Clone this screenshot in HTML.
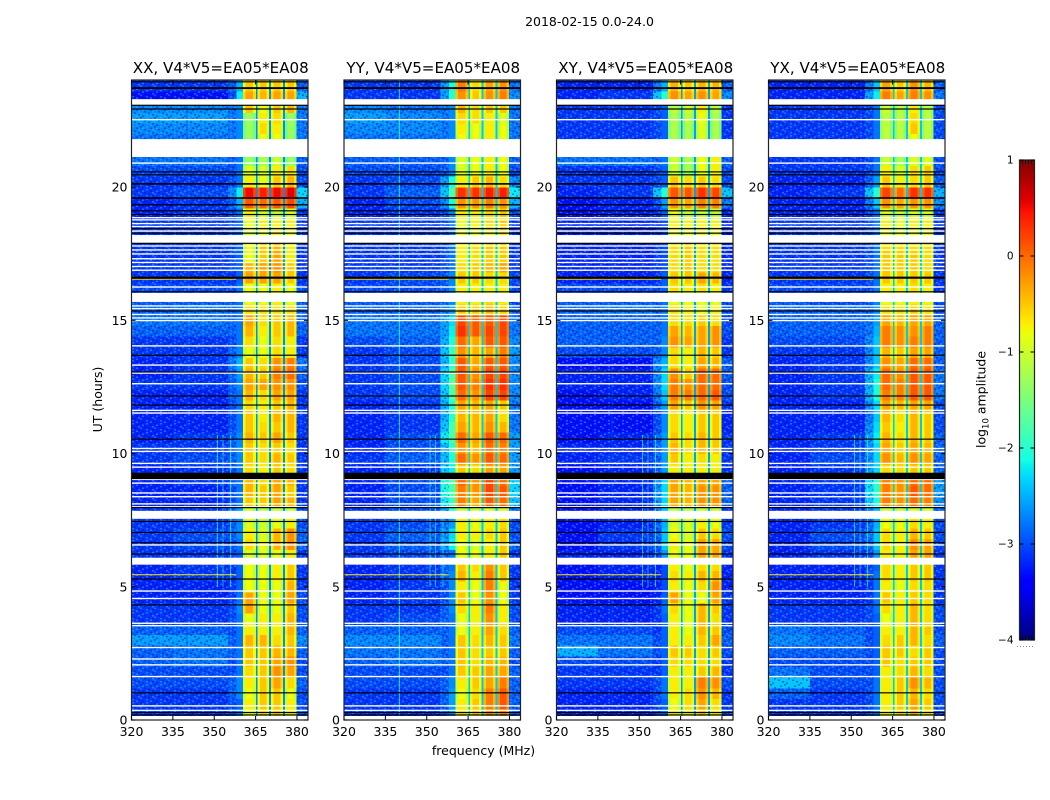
<!DOCTYPE html>
<html>
<head>
<meta charset="utf-8">
<style>
html,body{margin:0;padding:0;background:#fff;}
svg{display:block;}
text{font-family:"DejaVu Sans","Liberation Sans",sans-serif;fill:#000;}
</style>
</head>
<body>
<svg id="figure" xmlns="http://www.w3.org/2000/svg" width="1050" height="800" viewBox="0 0 1050 800">
<defs>
<pattern id="speckle" patternUnits="userSpaceOnUse" width="14" height="9">
<rect x="0" y="0" width="2" height="1.5" fill="#000070" fill-opacity=".4"/>
<rect x="6" y="0" width="2" height="1.5" fill="#50aaff" fill-opacity=".5"/>
<rect x="10" y="1.5" width="2" height="1.5" fill="#000070" fill-opacity=".4"/>
<rect x="2" y="1.5" width="2" height="1.5" fill="#50aaff" fill-opacity=".45"/>
<rect x="4" y="3" width="2" height="1.5" fill="#000070" fill-opacity=".4"/>
<rect x="12" y="3" width="2" height="1.5" fill="#50aaff" fill-opacity=".5"/>
<rect x="8" y="4.5" width="2" height="1.5" fill="#000070" fill-opacity=".4"/>
<rect x="0" y="4.5" width="2" height="1.5" fill="#50aaff" fill-opacity=".4"/>
<rect x="12" y="6" width="2" height="1.5" fill="#000070" fill-opacity=".4"/>
<rect x="6" y="6" width="2" height="1.5" fill="#50aaff" fill-opacity=".45"/>
<rect x="2" y="7.5" width="2" height="1.5" fill="#000070" fill-opacity=".4"/>
<rect x="10" y="7.5" width="2" height="1.5" fill="#50aaff" fill-opacity=".5"/>
</pattern>
</defs>
<rect width="1050" height="800" fill="#fff"/>
<text x="589.5" y="26" font-size="12.5" text-anchor="middle">2018-02-15 0.0-24.0</text>
<text x="483.5" y="755" font-size="12.5" text-anchor="middle">frequency (MHz)</text>
<text x="0" y="0" font-size="12.5" text-anchor="middle" transform="translate(102,399.5) rotate(-90)">UT (hours)</text>
<text x="0" y="0" font-size="12.5" text-anchor="middle" transform="translate(985.5,399.5) rotate(-90)">log<tspan font-size="8.5" dy="3">10</tspan><tspan dy="-3"> amplitude</tspan></text>
<line x1="1017" x2="1035" y1="646.5" y2="646.5" stroke="#888" stroke-width="1" stroke-dasharray="1 2"/>
</svg>
<script>
const panelTitles = ["XX, V4*V5=EA05*EA08","YY, V4*V5=EA05*EA08","XY, V4*V5=EA05*EA08","YX, V4*V5=EA05*EA08"];
const xTicks = [320,335,350,365,380];
const yTicks = [0,5,10,15,20];
const colorTicks = [-4,-3,-2,-1,0,1];
const rowHours = [0,0.4,0.8,1.2,1.6,2,2.4,2.8,3.2,3.6,4,4.4,4.8,5.2,5.6,6,6.4,6.8,7.2,7.6,8,8.4,8.8,9.2,9.6,10,10.4,10.8,11.2,11.6,12,12.4,12.8,13.2,13.6,14,14.4,14.8,15.2,15.6,16,16.4,16.8,17.2,17.6,18,18.4,18.8,19.2,19.6,20,20.4,20.8,21.2,21.6,22,22.4,22.8,23.2,23.6];
const freqEdges = [320,335,355,358,360.4,361.4,364.1,365.1,365.7,366.6,368.9,369.8,370.5,371.4,374,374.9,375.6,376.5,379,379.9,384];
const columnBand = [0,1,2,3,4,4,4,null,5,5,5,null,6,6,6,null,7,7,7,8];
const columnRim = [0,0,0,0,-3,0,-3,0,-3,0,-3,0,-3,0,-3,0,-3,0,-3,0];
const gapAmps = [-2.7,-2.4,-2.6,-2.4];
/* amplitudes in tenths of log10: 320-335, 335-355, 355-358, 358-360, band1..band4, 380-384 */
const ampXX = [
[-31,-31,-30,-28,-8,-6,-5,-7,-29],[-31,-31,-30,-29,-7,-5,-5,-7,-30],[-31,-31,-29,-27,-8,-5,-5,-8,-30],[-30,-30,-29,-27,-7,-5,-3,-6,-29],[-30,-30,-30,-28,-6,-5,-2,-3,-30],
[-29,-28,-30,-28,-5,-5,-3,-2,-30],[-29,-28,-29,-28,-5,-5,-4,-4,-29],[-26,-26,-29,-28,-4,-4,-6,-5,-27],[-29,-29,-30,-28,-7,-7,-7,-4,-29],[-31,-31,-30,-28,-8,-7,-7,-4,-30],
[-31,-31,-30,-27,-3,-8,-8,-5,-30],[-32,-32,-31,-28,-3,-8,-8,-3,-30],[-32,-32,-31,-29,-8,-8,-8,-4,-31],[-32,-31,-31,-29,-8,-8,-7,-5,-31],[-32,-31,-31,-29,-8,-8,-7,-5,-31],
[-31,-31,-30,-29,-9,-9,-8,-7,-31],[-31,-30,-30,-28,-6,-8,-4,-2,-29],[-31,-30,-29,-27,-7,-9,-4,-2,-29],[-31,-31,-29,-27,-9,-10,-8,-7,-30],[-31,-31,-28,-26,-10,-11,-10,-10,-30],
[-32,-32,-30,-28,-5,-5,-3,-4,-31],[-32,-32,-30,-28,-4,-5,-3,-5,-31],[-32,-31,-29,-28,-4,-6,-3,-4,-31],[-32,-31,-30,-28,-6,-7,-5,-6,-31],[-31,-30,-29,-27,-5,-6,-4,-5,-31],
[-31,-31,-29,-27,-5,-6,-5,-6,-31],[-32,-31,-29,-27,-4,-5,-3,-5,-31],[-32,-32,-30,-28,-5,-6,-5,-4,-31],[-32,-32,-30,-28,-5,-7,-4,-4,-31],[-32,-32,-30,-28,-6,-7,-5,-4,-31],
[-32,-32,-29,-28,-4,-6,-3,-3,-31],[-31,-31,-29,-27,-3,-3,-2,-2,-30],[-32,-31,-29,-26,-4,-5,-1,0,-29],[-32,-31,-28,-25,-5,-6,-2,-1,-28],[-31,-31,-29,-27,-8,-8,-6,-7,-31],
[-31,-31,-30,-28,-6,-8,-6,-7,-31],[-29,-29,-29,-28,-4,-7,-5,-4,-29],[-28,-28,-29,-28,-3,-6,-5,-4,-29],[-29,-28,-29,-28,-6,-6,-6,-6,-29],[-29,-29,-29,-28,-8,-8,-7,-8,-29],
[-30,-30,-30,-28,-8,-8,-7,-8,-30],[-31,-31,-31,-29,-3,-3,-3,-5,-31],[-31,-31,-30,-29,-4,-3,-2,-5,-31],[-31,-31,-30,-29,-8,-5,-3,-7,-31],[-31,-31,-30,-29,-8,-5,-4,-7,-31],
[-31,-31,-30,-29,-9,-8,-7,-8,-31],[-31,-31,-30,-29,-8,-7,-7,-7,-31],[-32,-31,-30,-28,-7,-9,-10,-9,-31],[-32,-31,-29,-25,1,0,1,2,-25],[-31,-30,-27,-22,5,4,5,6,-23],
[-31,-31,-30,-28,-7,-8,-5,-4,-30],[-30,-30,-30,-28,-9,-9,-7,-6,-30],[-28,-28,-29,-28,-13,-12,-10,-13,-29],[-28,-28,-29,-28,-13,-12,-10,-13,-29],[-28,-28,-28,-27,-13,-8,-8,-13,-28],
[-27,-27,-28,-27,-13,-6,-7,-13,-28],[-26,-26,-28,-27,-13,-7,-6,-13,-28],[-27,-27,-28,-27,-5,-8,-5,-4,-28],[-33,-33,-30,-22,-3,-4,-3,-3,-25],[-31,-31,-29,-25,-5,-5,-5,-5,-29]
];
const ampYY = [
[-31,-31,-29,-27,-6,-5,-2,-1,-29],[-31,-31,-29,-26,-7,-5,-1,1,-29],[-31,-31,-29,-26,-8,-6,-1,1,-29],[-30,-30,-29,-27,-7,-5,-3,-1,-29],[-30,-30,-30,-28,-5,-5,-3,-3,-29],
[-29,-28,-29,-28,-5,-6,-4,-4,-30],[-28,-28,-29,-28,-5,-6,-5,-5,-29],[-27,-27,-29,-28,-5,-6,-4,-5,-28],[-29,-29,-29,-28,-8,-7,-3,-6,-29],[-31,-30,-29,-28,-8,-7,-2,-7,-30],
[-31,-31,-29,-27,-6,-7,-1,-7,-30],[-32,-31,-30,-27,-5,-8,-2,-8,-31],[-32,-31,-30,-27,-7,-8,-1,-8,-31],[-32,-31,-29,-27,-4,-7,-1,-5,-31],[-32,-31,-29,-28,-5,-6,-2,-5,-31],
[-31,-30,-29,-28,-8,-8,-7,-5,-31],[-31,-29,-26,-22,-8,-9,-7,-5,-29],[-31,-29,-27,-23,-7,-7,-6,-5,-30],[-31,-30,-28,-26,-7,-8,-7,-6,-30],[-31,-30,-26,-20,-10,-10,-9,-9,-28],
[-32,-30,-22,-19,-1,-3,1,0,-24],[-32,-30,-21,-18,-1,-2,2,1,-23],[-32,-30,-20,-18,0,-2,2,0,-23],[-32,-31,-24,-22,-5,-6,-3,-3,-26],[-31,-29,-25,-21,0,-2,1,0,-26],
[-32,-30,-25,-20,-2,-4,0,-1,-26],[-32,-30,-22,-18,0,-3,1,0,-26],[-32,-31,-24,-18,-3,-4,-2,-4,-28],[-32,-31,-25,-20,-4,-4,-3,-6,-28],[-32,-31,-25,-20,-3,-4,-3,-5,-28],
[-31,-30,-24,-18,0,-2,2,2,-27],[-31,-30,-23,-17,1,-1,3,3,-27],[-31,-30,-23,-18,1,-2,2,2,-27],[-31,-30,-25,-20,1,-3,1,1,-27],[-31,-30,-24,-19,-2,-4,-3,-1,-26],
[-30,-29,-25,-21,0,-3,1,1,-27],[-28,-28,-26,-22,3,1,2,2,-28],[-28,-28,-26,-23,2,1,1,2,-28],[-29,-29,-28,-26,-5,-5,-4,-5,-29],[-29,-29,-28,-27,-7,-7,-6,-7,-30],
[-30,-30,-29,-27,-7,-7,-7,-7,-30],[-31,-30,-29,-27,-5,-5,-6,-6,-30],[-31,-31,-30,-28,-6,-5,-4,-3,-31],[-31,-31,-30,-28,-7,-6,-5,-5,-31],[-31,-31,-30,-28,-7,-6,-5,-5,-31],
[-31,-31,-30,-28,-8,-8,-7,-6,-31],[-31,-31,-30,-28,-8,-7,-6,-5,-31],[-32,-31,-30,-27,-7,-7,-6,-5,-30],[-32,-30,-27,-21,-2,-2,-1,-2,-25],[-31,-29,-24,-18,3,3,4,4,-22],
[-31,-30,-26,-21,-7,-5,-4,-6,-27],[-30,-30,-29,-27,-9,-8,-7,-8,-30],[-29,-29,-29,-27,-9,-8,-7,-8,-29],[-29,-29,-29,-27,-9,-8,-7,-8,-29],[-28,-28,-28,-27,-8,-8,-7,-8,-28],
[-27,-27,-28,-27,-7,-8,-7,-8,-28],[-26,-27,-28,-27,-6,-6,-7,-9,-28],[-27,-28,-28,-27,-4,-6,-5,-5,-28],[-31,-31,-26,-20,-2,-5,-2,-1,-27],[-31,-31,-26,-21,-1,-6,-3,-2,-28]
];
const ampXY = [
[-32,-32,-30,-29,-7,-7,-5,-7,-30],[-32,-32,-30,-29,-8,-6,-3,-6,-31],[-32,-32,-30,-28,-7,-6,-2,-4,-31],[-31,-31,-30,-28,-7,-7,-1,-2,-30],[-31,-31,-31,-29,-7,-7,-5,-4,-31],
[-30,-30,-31,-29,-6,-6,-6,-6,-31],[-25,-28,-30,-29,-5,-5,-6,-5,-30],[-28,-28,-30,-29,-7,-7,-5,-3,-29],[-30,-30,-31,-29,-7,-8,-4,-5,-30],[-32,-32,-31,-29,-7,-8,-4,-6,-31],
[-32,-32,-31,-28,-6,-8,-4,-5,-31],[-33,-33,-32,-29,-3,-8,-8,-3,-31],[-33,-33,-32,-30,-7,-8,-6,-2,-32],[-33,-32,-32,-30,-6,-7,-4,-4,-32],[-33,-32,-32,-30,-7,-8,-6,-6,-32],
[-32,-32,-30,-26,-8,-8,-3,-3,-31],[-33,-31,-29,-24,-7,-8,-3,-3,-30],[-33,-31,-29,-24,-8,-9,-5,-6,-30],[-33,-32,-29,-25,-9,-9,-7,-8,-31],[-33,-32,-28,-24,-11,-11,-10,-10,-31],
[-33,-32,-27,-23,-3,-4,-2,-2,-29],[-33,-32,-27,-23,-3,-4,-2,-2,-29],[-33,-32,-27,-23,-3,-4,-3,-3,-29],[-33,-32,-29,-26,-7,-7,-7,-7,-31],[-32,-31,-29,-26,-5,-7,-6,-7,-31],
[-32,-32,-29,-26,-4,-6,-4,-5,-31],[-33,-32,-29,-26,-5,-6,-4,-5,-31],[-33,-33,-30,-27,-6,-7,-5,-5,-32],[-33,-33,-30,-27,-6,-7,-5,-5,-32],[-33,-33,-29,-26,-3,-5,-2,-3,-31],
[-33,-32,-28,-24,-1,-1,0,1,-30],[-32,-32,-27,-23,-1,-2,0,0,-30],[-32,-32,-27,-23,-2,-5,0,0,-29],[-33,-33,-27,-25,-6,-7,-3,-4,-29],[-30,-30,-29,-27,-6,-7,-4,-5,-31],
[-29,-29,-29,-27,-2,-3,-3,-2,-31],[-29,-29,-29,-28,-3,-4,-3,-2,-30],[-29,-29,-29,-28,-6,-6,-5,-6,-30],[-29,-28,-29,-28,-6,-7,-8,-7,-30],[-29,-29,-29,-28,-8,-8,-8,-8,-30],
[-30,-30,-30,-29,-6,-7,-6,-7,-31],[-32,-32,-31,-29,-5,-5,-3,-4,-32],[-32,-32,-31,-30,-6,-5,-6,-6,-32],[-32,-32,-31,-30,-6,-5,-6,-6,-32],[-32,-32,-31,-30,-6,-5,-6,-6,-32],
[-32,-32,-31,-30,-8,-8,-7,-8,-32],[-32,-32,-31,-30,-7,-7,-7,-7,-32],[-33,-32,-31,-29,-8,-10,-10,-10,-32],[-33,-32,-30,-26,-2,-3,-1,-1,-28],[-32,-31,-24,-20,1,1,3,2,-24],
[-31,-31,-30,-29,-5,-6,-5,-6,-30],[-31,-31,-30,-29,-10,-12,-8,-7,-30],[-28,-28,-29,-28,-10,-12,-8,-7,-29],[-28,-28,-29,-28,-10,-12,-8,-7,-29],[-31,-31,-30,-29,-12,-12,-9,-12,-31],
[-31,-31,-30,-29,-12,-12,-9,-12,-31],[-31,-31,-30,-29,-12,-11,-8,-12,-31],[-31,-31,-30,-29,-11,-10,-7,-11,-31],[-32,-31,-24,-20,-2,-3,-2,-3,-27],[-32,-32,-28,-25,-4,-5,-4,-4,-29]
];
const ampYX = [
[-31,-31,-30,-28,-7,-6,-4,-6,-30],[-31,-31,-30,-28,-7,-5,-3,-5,-30],[-29,-31,-30,-28,-7,-5,-4,-6,-30],[-24,-30,-30,-28,-7,-5,-2,-4,-30],[-28,-30,-30,-29,-7,-6,-4,-6,-30],
[-30,-30,-30,-29,-5,-6,-5,-5,-30],[-29,-29,-30,-29,-5,-5,-6,-5,-30],[-27,-28,-30,-29,-6,-5,-4,-6,-29],[-28,-29,-30,-29,-7,-7,-4,-5,-30],[-31,-31,-30,-29,-8,-7,-4,-6,-30],
[-31,-31,-30,-28,-6,-7,-4,-6,-30],[-32,-32,-31,-28,-5,-7,-5,-6,-31],[-32,-32,-31,-28,-7,-8,-6,-6,-31],[-32,-32,-30,-28,-6,-7,-5,-5,-31],[-32,-32,-30,-29,-6,-7,-5,-5,-31],
[-32,-31,-30,-26,-7,-7,-3,-3,-31],[-32,-30,-28,-24,-6,-7,-2,-3,-30],[-32,-30,-28,-24,-6,-7,-4,-5,-30],[-32,-31,-29,-25,-8,-8,-6,-7,-30],[-32,-31,-28,-25,-10,-10,-9,-9,-29],
[-32,-31,-24,-21,-1,-2,0,-1,-27],[-32,-31,-23,-20,-1,-2,1,0,-26],[-32,-31,-23,-20,-1,-2,0,0,-26],[-32,-31,-26,-23,-6,-6,-5,-5,-29],[-32,-30,-27,-23,-2,-4,-2,-3,-29],
[-32,-31,-27,-23,-3,-5,-3,-4,-29],[-32,-31,-26,-22,-4,-6,-4,-5,-29],[-32,-32,-27,-23,-5,-7,-4,-5,-30],[-32,-32,-28,-24,-4,-6,-4,-5,-30],[-32,-32,-27,-23,-3,-4,-3,-3,-30],
[-32,-31,-25,-21,-1,-1,1,1,-28],[-32,-31,-25,-21,0,-1,1,1,-28],[-32,-31,-25,-22,0,-2,1,1,-28],[-32,-31,-27,-24,-2,-3,0,0,-29],[-31,-31,-27,-24,-4,-5,-3,-3,-29],
[-30,-30,-27,-24,-1,-2,-1,-1,-29],[-29,-29,-28,-25,-1,-2,-2,-1,-29],[-29,-29,-28,-26,-3,-4,-3,-3,-29],[-29,-29,-29,-27,-6,-6,-5,-6,-30],[-29,-30,-29,-27,-8,-8,-7,-7,-30],
[-30,-30,-30,-28,-7,-7,-6,-7,-31],[-31,-31,-30,-28,-5,-5,-5,-5,-31],[-31,-31,-30,-28,-5,-5,-5,-6,-31],[-31,-31,-30,-28,-5,-5,-5,-6,-31],[-31,-31,-30,-28,-6,-6,-6,-6,-31],
[-31,-31,-30,-28,-8,-8,-8,-7,-31],[-31,-31,-30,-28,-7,-8,-7,-7,-31],[-32,-32,-30,-28,-9,-10,-9,-9,-31],[-32,-32,-28,-24,-2,-3,-2,-2,-27],[-32,-31,-24,-20,2,0,3,3,-25],
[-32,-32,-29,-26,-5,-7,-6,-5,-29],[-31,-31,-30,-28,-7,-9,-6,-5,-30],[-31,-31,-30,-28,-10,-12,-9,-9,-30],[-31,-31,-30,-28,-10,-12,-9,-9,-30],[-31,-31,-30,-28,-11,-11,-8,-11,-30],
[-31,-31,-30,-28,-11,-11,-5,-11,-30],[-31,-31,-30,-28,-11,-11,-6,-11,-30],[-31,-31,-30,-28,-10,-11,-7,-11,-30],[-32,-32,-26,-22,-1,-3,-1,-2,-28],[-32,-32,-28,-24,-3,-5,-2,-4,-29]
];
const panelAmps = [ampXX,ampYY,ampXY,ampYX];
const whiteSpans = [[0,0.15],[5.83,6.09],[7.55,7.85],[15.69,16.03],[17.9,18.2],[21.13,21.8],[23.08,23.3]];
const whiteLines = [0.36,0.53,1.63,2.07,2.29,2.72,3.54,3.63,4.56,4.84,6.57,8,8.11,8.38,8.52,8.89,9.03,9.49,9.63,10.08,10.19,11.52,11.62,12.62,13.02,13.32,14.04,14.99,15.09,15.22,15.44,15.54,16.25,16.88,17.02,17.17,17.31,17.49,17.64,17.79,18.35,18.52,18.63,18.77,18.85,20.9,22.53];
const blackSpans = [[9.04,9.28],[16.56,16.64],[20.09,20.15],[19.31,19.36],[19.56,19.62],[23.68,23.75]];
const blackLines = [0.19,0.28,1.02,4.32,5.29,6.23,6.66,7.04,7.45,7.97,10.54,11.82,12.16,13.06,13.69,15.35,16.07,17.89,18.27,18.44,18.97,19.11,20.46,20.57,22.93,23.07,23.95];
const streakHours = [5.45,16.54];
const streakAmps = [-0.7,-0.6];
const spurFreqs = [351,353,355.7];
const spurAmps = [-2.1,-2.2,-2.1];
const spurStart = 5;
const spurEnd = 10.7;
const midSpurFreq = 340;
const midSpurAmp = [-3,-2,-3,-3];

const NS = "http://www.w3.org/2000/svg";
const svg = document.getElementById("figure");
const panelLeft = [131.5,344,556.5,768.5];
const panelWidth = 176.5;
const plotTop = 80.5, plotBottom = 720;
const xMin = 320, xMax = 384, yMin = 0, yMax = 24;

function make(tag, attrs, parent){
  const el = document.createElementNS(NS, tag);
  for (const k in attrs) el.setAttribute(k, attrs[k]);
  (parent || svg).appendChild(el);
  return el;
}
function lerp(p, stops){
  for (let i = 1; i < stops.length; i++){
    if (p <= stops[i][0]){
      const a = stops[i-1], b = stops[i];
      return a[1] + (b[1]-a[1]) * (p-a[0]) / (b[0]-a[0]);
    }
  }
  return stops[stops.length-1][1];
}
function jet(value){
  const t = Math.max(0, Math.min(1, (value + 4) / 5));
  const r = lerp(t, [[0,0],[0.35,0],[0.66,1],[0.89,1],[1,0.5]]);
  const g = lerp(t, [[0,0],[0.125,0],[0.375,1],[0.64,1],[0.91,0],[1,0]]);
  const b = lerp(t, [[0,0.5],[0.11,1],[0.34,1],[0.65,0],[1,0]]);
  return "rgb(" + Math.round(r*255) + "," + Math.round(g*255) + "," + Math.round(b*255) + ")";
}
function xScale(p, f){ return panelLeft[p] + (f - xMin) / (xMax - xMin) * panelWidth; }
function yScale(h){ return plotBottom - (h - yMin) / (yMax - yMin) * (plotBottom - plotTop); }
function hourBand(p, g, h0, h1, color, name){
  const r = make("rect", {x: xScale(p, xMin), y: yScale(h1), width: panelWidth, height: Math.max(yScale(h0) - yScale(h1), 0.5), fill: color}, g);
  
  
}

panelAmps.forEach(function(rows, p){
  const g = make("g", {}, svg);
  
  
  rows.forEach(function(row, r){
    const h0 = rowHours[r];
    const h1 = r + 1 < rowHours.length ? rowHours[r+1] : yMax;
    columnBand.forEach(function(band, c){
      const value = band === null ? gapAmps[p] : (row[band] + columnRim[c]) / 10;
      const cell = make("rect", {
        x: xScale(p, freqEdges[c]),
        y: yScale(h1),
        width: xScale(p, freqEdges[c+1]) - xScale(p, freqEdges[c]) + 0.3,
        height: yScale(h0) - yScale(h1) + 0.3,
        fill: jet(value),
        "shape-rendering": "crispEdges"
      }, g);
      
      
    });
  });
  const tex1 = make("rect", {x: xScale(p, xMin), y: plotTop, width: xScale(p, 358) - xScale(p, xMin), height: plotBottom - plotTop, fill: "url(#speckle)"}, g);
  
  
  const tex2 = make("rect", {x: xScale(p, 379.9), y: plotTop, width: xScale(p, 384) - xScale(p, 379.9), height: plotBottom - plotTop, fill: "url(#speckle)"}, g);
  
  
  spurFreqs.forEach(function(f, i){
    const s = make("rect", {x: xScale(p, f), y: yScale(spurEnd), width: 1, height: yScale(spurStart) - yScale(spurEnd), fill: jet(spurAmps[i]), "fill-opacity": 0.7, "shape-rendering": "crispEdges"}, g);
    
    
  });
  const ms = make("rect", {x: xScale(p, midSpurFreq), y: yScale(yMax), width: 1, height: plotBottom - plotTop, fill: jet(midSpurAmp[p]), "fill-opacity": 0.7, "shape-rendering": "crispEdges"}, g);
  
  
  streakHours.forEach(function(h, i){
    const st = make("rect", {x: xScale(p, xMin), y: yScale(h + 0.02), width: xScale(p, 358) - xScale(p, xMin), height: 1, fill: jet(streakAmps[i])}, g);
    
    
  });
  whiteLines.forEach(function(h){ hourBand(p, g, h - 0.026, h + 0.026, "#fff", "flagged-line"); });
  whiteSpans.forEach(function(s){ hourBand(p, g, s[0], s[1], "#fff", "flagged-span"); });
  blackLines.forEach(function(h){ hourBand(p, g, h - 0.022, h + 0.022, "#000", "dropout-line"); });
  blackSpans.forEach(function(s){ hourBand(p, g, s[0], s[1], "#000", "dropout-span"); });

  const frame = make("rect", {x: panelLeft[p], y: plotTop - 0.5, width: panelWidth, height: plotBottom - plotTop + 0.5, fill: "none", stroke: "#222", "stroke-width": 1.2}, g);
  
  

  const title = make("text", {x: panelLeft[p] + panelWidth / 2 + 1, y: 73, "font-size": 15.1, "text-anchor": "middle"}, g);
  title.textContent = panelTitles[p];
  
  

  xTicks.forEach(function(t){
    const x = xScale(p, t);
    const a = make("line", {x1: x, x2: x, y1: plotBottom, y2: plotBottom - 4, stroke: "#000"}, g);
    
    
    const b = make("line", {x1: x, x2: x, y1: plotTop, y2: plotTop + 4, stroke: "#000"}, g);
    
    
    const l = make("text", {x: x, y: 736, "font-size": 12.5, "text-anchor": "middle"}, g);
    l.textContent = t;
    
    
  });
  yTicks.forEach(function(t){
    const y = yScale(t);
    const a = make("line", {x1: panelLeft[p], x2: panelLeft[p] + 4, y1: y, y2: y, stroke: "#000"}, g);
    
    
    const b = make("line", {x1: panelLeft[p] + panelWidth, x2: panelLeft[p] + panelWidth - 4, y1: y, y2: y, stroke: "#000"}, g);
    
    
    const l = make("text", {x: panelLeft[p] - 4, y: y + 4.5, "font-size": 12.5, "text-anchor": "end"}, g);
    l.textContent = t;
    
    
  });
});

/* colorbar */
const cbLeft = 1019.5, cbWidth = 15, cbTop = 160, cbBottom = 640;
const cbMin = -4, cbMax = 1;
function cbY(v){ return cbBottom - (v - cbMin) / (cbMax - cbMin) * (cbBottom - cbTop); }
const cb = make("g", {}, svg);


for (let i = 0; i < 240; i++){
  const v = cbMin + (cbMax - cbMin) * i / 240;
  const next = cbMin + (cbMax - cbMin) * (i + 1) / 240;
  const s = make("rect", {x: cbLeft, y: cbY(next), width: cbWidth, height: cbY(v) - cbY(next) + 0.5, fill: jet(v), "shape-rendering": "crispEdges"}, cb);
  
  
}
const cbFrame = make("rect", {x: cbLeft, y: cbTop, width: cbWidth, height: cbBottom - cbTop, fill: "none", stroke: "#222", "stroke-width": 1.2}, cb);


[3, 6, 9, 12].forEach(function(dx){
  const t1 = make("line", {x1: cbLeft + dx, x2: cbLeft + dx, y1: cbTop, y2: cbTop + 4, stroke: "#000"}, cb);
  
  
  const t2 = make("line", {x1: cbLeft + dx, x2: cbLeft + dx, y1: cbBottom, y2: cbBottom - 4, stroke: "#000"}, cb);
  
  
});
colorTicks.forEach(function(t){
  const y = cbY(t);
  const a = make("line", {x1: cbLeft, x2: cbLeft + 4, y1: y, y2: y, stroke: "#000"}, cb);
  
  
  const b = make("line", {x1: cbLeft + cbWidth, x2: cbLeft + cbWidth - 4, y1: y, y2: y, stroke: "#000"}, cb);
  
  
  const l = make("text", {x: cbLeft - 6, y: y + 3.5, "font-size": 10.5, "text-anchor": "end"}, cb);
  l.textContent = t < 0 ? "\u2212" + Math.abs(t) : String(t);
  
  
});
</script>
</body>
</html>
